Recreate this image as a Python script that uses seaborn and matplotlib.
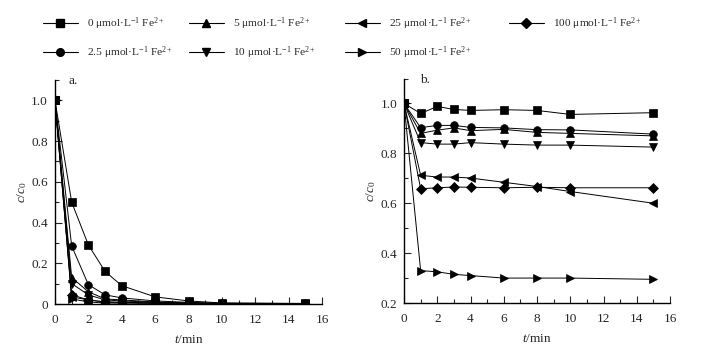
import numpy as np
import pandas as pd
import matplotlib
matplotlib.use("Agg")
import matplotlib.pyplot as plt
import seaborn as sns
from matplotlib.lines import Line2D
from matplotlib.ticker import MultipleLocator, FuncFormatter

sns.set_style("ticks")
plt.rcParams['font.family'] = ['Liberation Serif', 'DejaVu Serif']
plt.rcParams['mathtext.fontset'] = 'custom'
plt.rcParams['mathtext.rm'] = 'Liberation Serif'
plt.rcParams['mathtext.it'] = 'Liberation Serif:italic'
plt.rcParams['mathtext.bf'] = 'Liberation Serif:bold'

t = [0, 1, 2, 3, 4, 6, 8, 10, 15]
concs = ["0", "2.5", "5", "10", "25", "50", "100"]
markers = {"0": "s", "2.5": "o", "5": "^", "10": "v", "25": "<", "50": ">", "100": "D"}

# Panel a
a_0 = [1.0, 0.50, 0.29, 0.16, 0.09, 0.035, 0.015, 0.005, 0.003]
a_2_5 = [1.0, 0.285, 0.095, 0.045, 0.03, 0.015, 0.008, 0.004, 0.002]
a_5 = [1.0, 0.13, 0.06, 0.025, 0.02, 0.01, 0.005, 0.003, 0.001]
a_10 = [1.0, 0.10, 0.045, 0.02, 0.015, 0.008, 0.004, 0.002, 0.001]
a_25 = [1.0, 0.035, 0.02, 0.01, 0.008, 0.005, 0.003, 0.002, 0.001]
a_50 = [1.0, 0.025, 0.01, 0.005, 0.004, 0.003, 0.002, 0.001, 0.0]
a_100 = [1.0, 0.045, 0.02, 0.01, 0.008, 0.005, 0.003, 0.002, 0.001]

# Panel b
b_0 = [1.0, 0.96, 0.988, 0.976, 0.972, 0.975, 0.972, 0.956, 0.963]
b_2_5 = [1.0, 0.903, 0.912, 0.912, 0.904, 0.902, 0.895, 0.894, 0.877]
b_5 = [1.0, 0.88, 0.893, 0.902, 0.891, 0.896, 0.884, 0.880, 0.870]
b_10 = [1.0, 0.843, 0.837, 0.837, 0.843, 0.837, 0.833, 0.833, 0.825]
b_25 = [1.0, 0.712, 0.705, 0.705, 0.701, 0.684, 0.667, 0.647, 0.600]
b_50 = [1.0, 0.33, 0.325, 0.315, 0.31, 0.30, 0.30, 0.30, 0.295]
b_100 = [1.0, 0.658, 0.662, 0.665, 0.664, 0.662, 0.664, 0.662, 0.662]

a_series = [a_0, a_2_5, a_5, a_10, a_25, a_50, a_100]
b_series = [b_0, b_2_5, b_5, b_10, b_25, b_50, b_100]


def long_df(series):
    rows = []
    for c, vals in zip(concs, series):
        for ti, v in zip(t, vals):
            rows.append({"t": ti, "c": v, "conc": c})
    return pd.DataFrame(rows)


fig = plt.figure(figsize=(7.03, 3.53), dpi=100)
ax_a = fig.add_axes([0.0782, 0.1388, 0.380, 0.6346])
ax_b = fig.add_axes([0.5747, 0.1416, 0.3784, 0.636])

for ax, series, ylim, lab, lab_x in [(ax_a, a_series, (0, 1.1), "a.", 0.049),
                                     (ax_b, b_series, (0.2, 1.1), "b.", 0.06)]:
    df = long_df(series)
    sns.lineplot(data=df, x="t", y="c", hue="conc", style="conc", hue_order=concs,
                 style_order=concs, palette=["black"] * 7, markers=markers,
                 dashes=False, legend=False, ax=ax, linewidth=0.7,
                 markersize=5.5, markeredgecolor="black", markeredgewidth=0.5)
    ax.set_xlim(0, 16)
    ax.set_ylim(*ylim)
    ax.xaxis.set_major_locator(MultipleLocator(2))
    ax.xaxis.set_minor_locator(MultipleLocator(1))
    ax.yaxis.set_major_locator(MultipleLocator(0.2))
    ax.yaxis.set_minor_locator(MultipleLocator(0.1))
    ax.yaxis.set_major_formatter(FuncFormatter(lambda v, p: "0" if abs(v) < 1e-9 else f"{v:.1f}"))
    ax.tick_params(which="major", direction="in", length=5, width=0.8, labelsize=9.5, pad=5)
    ax.tick_params(axis="x", which="major", pad=7)
    ax.tick_params(which="minor", direction="in", length=3, width=0.8)
    for s in ["top", "right"]:
        ax.spines[s].set_visible(False)
    for s in ["left", "bottom"]:
        ax.spines[s].set_linewidth(1.0)
        ax.spines[s].set_color("black")
    ax.set_xlabel("$t$/min", fontsize=9.5, labelpad=6)
    ax.set_ylabel("$c$/$c_0$", fontsize=9.5, labelpad=1.5)
    ax.text(lab_x, 0.995, lab, transform=ax.transAxes, ha="left", va="center", fontsize=9.5)

labels = {c: f"{c} μmol·L$^{{-1}}$ Fe$^{{2+}}$" for c in concs}
cols = [(["0", "2.5"], 43), (["5", "10"], 189), (["25", "50"], 345), (["100"], 509)]
for keys, x0 in cols:
    handles = [Line2D([], [], color="black", linewidth=0.8, marker=markers[k],
                      markersize=5.5, markerfacecolor="black", markeredgecolor="black")
               for k in keys]
    fig.legend(handles, [labels[k] for k in keys], loc="upper left",
               bbox_to_anchor=(x0 / 703, 1 - 15 / 353), frameon=False,
               fontsize=8.2, handlelength=3.07, handletextpad=0.75,
               labelspacing=1.15, borderpad=0, borderaxespad=0)

fig.savefig("out.png", dpi=100)
